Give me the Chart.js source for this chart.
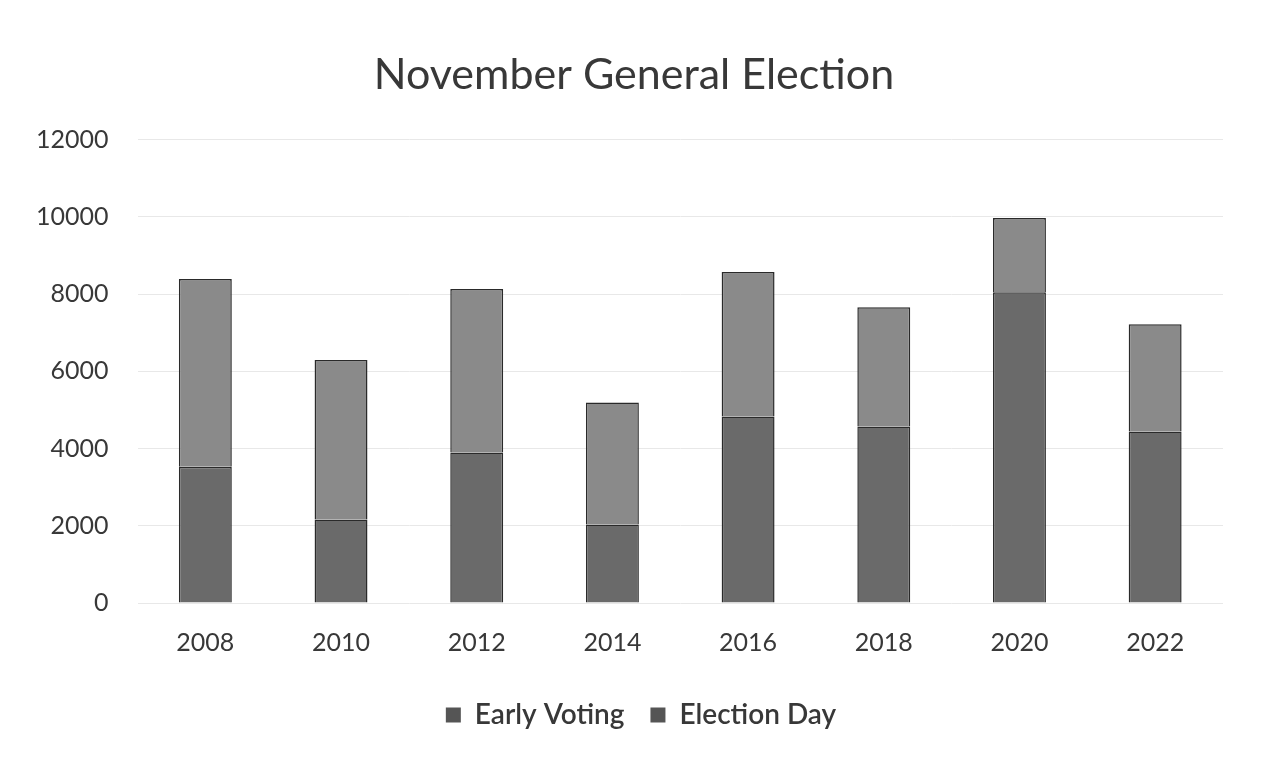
<!DOCTYPE html>
<html>
<head>
<meta charset="utf-8">
<script src="https://cdn.jsdelivr.net/npm/chart.js@4/dist/chart.umd.min.js"></script>
<style>
  html, body { margin: 0; padding: 0; background: #fff; }
  #wrap { width: 1271px; height: 758px; position: relative; }
</style>
</head>
<body>
<div id="wrap"><canvas id="chart" width="1271" height="758"></canvas></div>
<script>
// values
const years = ['2008', '2010', '2012', '2014', '2016', '2018', '2020', '2022'];
const earlyVoting = [3530, 2160, 3900, 2030, 4830, 4570, 8050, 4440];
const electionDay = [4860, 4130, 4230, 3160, 3740, 3090, 1920, 2780];
const yTicks = [0, 2000, 4000, 6000, 8000, 10000, 12000];

const font = 'Lato, "Open Sans", sans-serif';
const textColor = '#383838';

// title and legend sit centred on the page, not on the padded box
const shiftBlocks = {
  id: 'shiftBlocks',
  afterLayout(chart) {
    const t = chart.titleBlock, l = chart.legend;
    if (t) { t.left += 19; t.right += 19; }
    if (l) { l.left += 26; l.right += 26; }
  }
};

new Chart(document.getElementById('chart').getContext('2d'), {
  type: 'bar',
  data: {
    labels: years,
    datasets: [
      {
        label: 'Early Voting',
        data: earlyVoting,
        backgroundColor: '#6a6a6a',
        borderColor: '#2a2a2a',
        borderWidth: 1.5,
        categoryPercentage: 1,
        barPercentage: 0.39
      },
      {
        label: 'Election Day',
        data: electionDay,
        backgroundColor: '#8a8a8a',
        borderColor: '#2a2a2a',
        borderWidth: 1.5,
        categoryPercentage: 1,
        barPercentage: 0.39
      }
    ]
  },
  plugins: [shiftBlocks],
  options: {
    responsive: false,
    animation: false,
    layout: { padding: { left: 7, right: 48, top: 27, bottom: 19 } },
    plugins: {
      title: {
        display: true,
        text: 'November General Election',
        color: textColor,
        font: { family: font, size: 43, weight: 'normal' },
        padding: { top: 22, bottom: 39 }
      },
      legend: {
        position: 'bottom',
        labels: {
          color: textColor,
          font: { family: font, size: 28, weight: '600' },
          boxWidth: 15,
          boxHeight: 15,
          padding: 26,
          generateLabels: chart => chart.data.datasets.map((ds, i) => ({
            text: ds.label,
            fillStyle: '#555555',
            strokeStyle: '#555555',
            lineWidth: 0,
            fontColor: textColor,
            datasetIndex: i
          }))
        }
      },
      tooltip: { enabled: false }
    },
    scales: {
      x: {
        stacked: true,
        grid: { display: false },
        border: { display: false },
        ticks: { color: textColor, font: { family: font, size: 25 }, padding: 17 }
      },
      y: {
        stacked: true,
        min: 0,
        max: 12000,
        afterBuildTicks: axis => { axis.ticks = yTicks.map(v => ({ value: v })); },
        grid: { color: '#e8e8e8', drawTicks: false },
        border: { display: false },
        ticks: {
          color: textColor,
          font: { family: font, size: 25 },
          padding: 29,
          callback: v => String(v)
        }
      }
    }
  }
});
</script>
</body>
</html>
